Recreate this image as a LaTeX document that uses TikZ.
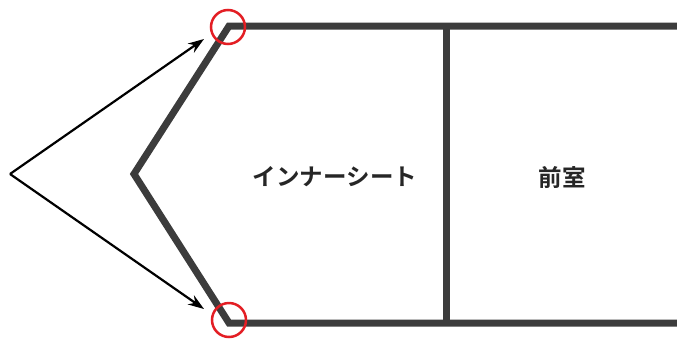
\documentclass[tikz,border=0pt]{standalone}
\usepackage{fontspec}
\newfontfamily\cjk{Noto Sans CJK JP}[BoldFont={* Bold}]
\usetikzlibrary{arrows.meta}
\definecolor{wall}{HTML}{3C3C3C}
\definecolor{mark}{HTML}{E31E24}
\tikzset{
  wallline/.style={draw=wall,line width=7pt,line join=miter,line cap=butt},
  ptr/.style={draw=black,line width=2.2pt,-{Stealth[length=16pt,width=11pt]}},
  ring/.style={draw=mark,line width=2.5pt,circle,minimum size=34pt,inner sep=0pt},
  lbl/.style={font=\cjk\bfseries\fontsize{23.5}{26}\selectfont,text=black!85}
}
\begin{document}
\begin{tikzpicture}[x=1pt,y=-1pt]
\useasboundingbox (0,0) rectangle (677,338);
\coordinate (tr) at (677,26);
\coordinate (tl) at (229,26);
\coordinate (apex) at (134,174);
\coordinate (bl) at (229,323);
\coordinate (br) at (677,323);
\coordinate (dt) at (446,26);
\coordinate (db) at (446,323);
\coordinate (src) at (10,174);
\coordinate (tipT) at (204,39);
\coordinate (tipB) at (204,309);
\draw[wallline] (tr) -- (tl) -- (apex) -- (bl) -- (br);
\draw[wallline] (dt) -- (db);
\draw[ptr] (src) -- (tipT);
\draw[ptr] (src) -- (tipB);
\node[ring] (c1) at (228,27) {};
\node[ring] (c2) at (229,320) {};
\node[lbl] (inner) at (335,177) {インナーシート};
\node[lbl] (front) at (562,177) {前室};
\end{tikzpicture}
\end{document}
